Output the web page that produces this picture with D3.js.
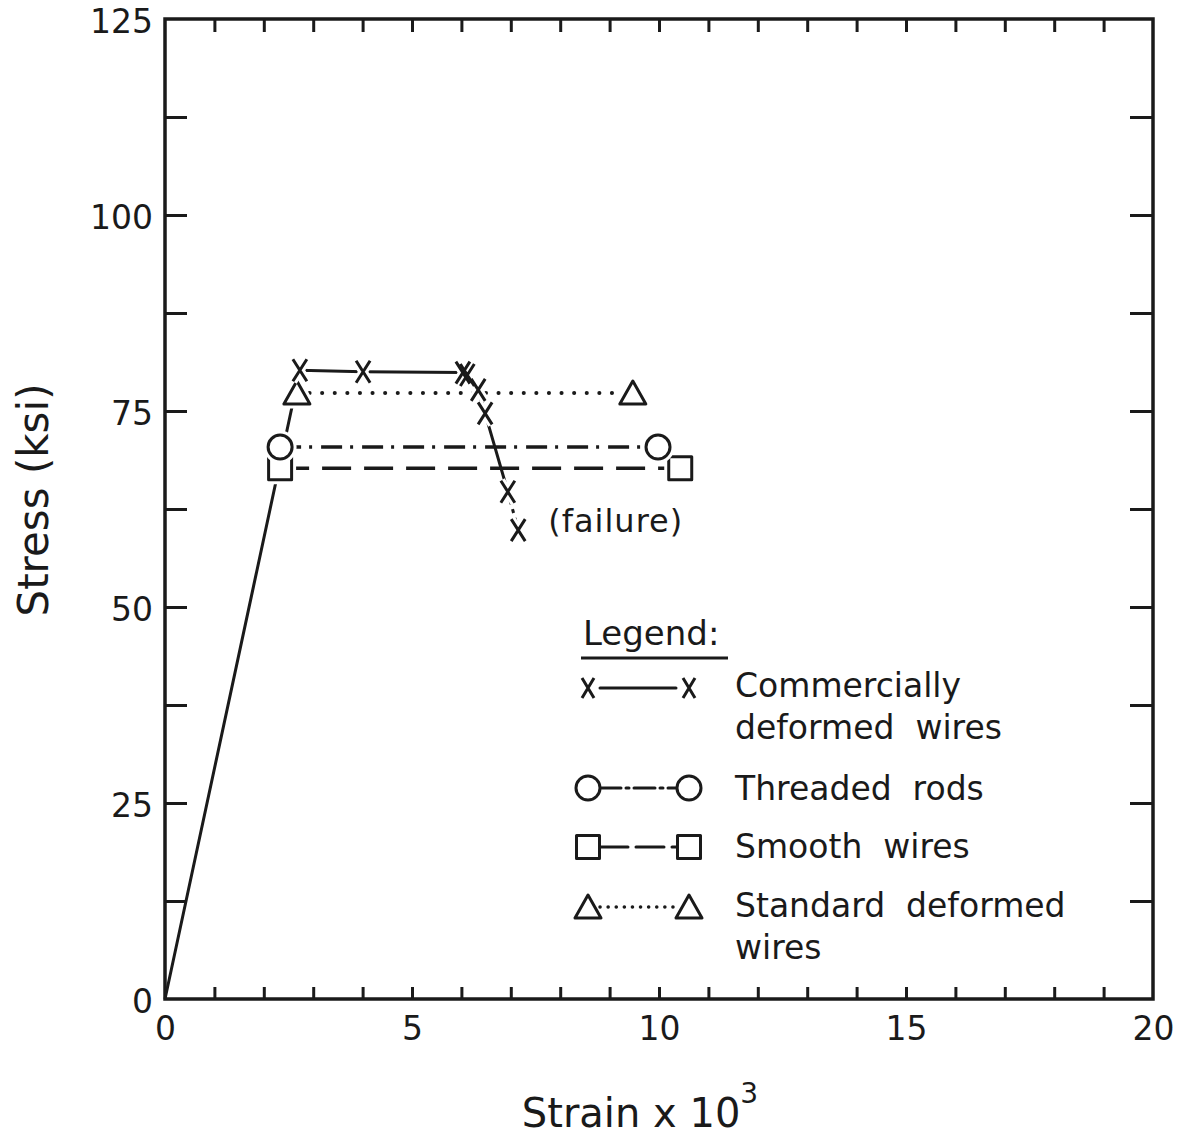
<!DOCTYPE html>
<html>
<head>
<meta charset="utf-8">
<script src="https://cdn.jsdelivr.net/npm/d3@7"></script>
<style>
  body { margin: 0; background: #fff; }
  text { font-family: "DejaVu Sans", sans-serif; fill: #1a1a1a; }
</style>
</head>
<body>
<div id="chart"></div>
<script>
// data (strain x 10^3, stress ksi)
var commercialStrain = [0, 2.73, 4.01, 6.03, 6.12, 6.34, 6.48, 6.94, 7.15];
var commercialStress = [0, 80.2, 80.0, 79.9, 79.6, 77.7, 74.7, 64.7, 59.8];

var threadedStrain = [2.33, 9.98];
var threadedStress = [70.4, 70.4];

var smoothStrain = [2.33, 10.43];
var smoothStress = [67.7, 67.7];

var standardStrain = [2.67, 9.47];
var standardStress = [77.3, 77.3];

var xTickLabels = [0, 5, 10, 15, 20];
var yTickLabels = [0, 25, 50, 75, 100, 125];

var legendLabels = [
  ["Commercially", "deformed  wires"],
  ["Threaded  rods"],
  ["Smooth  wires"],
  ["Standard  deformed", "wires"]
];

var svgWidth = 1185;
var svgHeight = 1135;
var ink = "#1a1a1a";

var svg = d3.select("#chart")
  .append("svg")
  .attr("width", svgWidth)
  .attr("height", svgHeight);

var x = d3.scaleLinear().domain([0, 20]).range([165, 1153]);
var y = d3.scaleLinear().domain([0, 125]).range([999, 19]);

function zip(xs, ys) {
  return xs.map(function(v, i) { return [v, ys[i]]; });
}

// axes: inward ticks, labels only on the major values
var xAxis = d3.axisBottom(x)
  .tickValues(d3.range(1, 20))
  .tickSize(-12)
  .tickFormat("");
var xLabels = d3.axisBottom(x)
  .tickValues(xTickLabels)
  .tickSize(0)
  .tickPadding(18);
var yAxis = d3.axisLeft(y)
  .tickValues(d3.range(12.5, 125, 12.5))
  .tickSize(-22)
  .tickFormat("");
var yLabels = d3.axisLeft(y)
  .tickValues(yTickLabels)
  .tickSize(0)
  .tickPadding(12);

svg.append("g").attr("transform", "translate(0,999)").call(xAxis);
svg.append("g").attr("transform", "translate(0,19)").call(d3.axisTop(x).tickValues(d3.range(1, 20)).tickSize(-13).tickFormat(""));
svg.append("g").attr("transform", "translate(165,0)").call(yAxis);
svg.append("g").attr("transform", "translate(1153,0)").call(d3.axisRight(y).tickValues(d3.range(12.5, 125, 12.5)).tickSize(-23).tickFormat(""));
svg.append("g").attr("transform", "translate(0,999)").call(xLabels);
var yLabelG = svg.append("g").attr("transform", "translate(165,3)").call(yLabels);

svg.selectAll(".domain").remove();
svg.selectAll(".tick line").attr("stroke", ink).attr("stroke-width", 3);
svg.selectAll(".tick text")
  .attr("font-family", "DejaVu Sans")
  .attr("font-size", 33)
  .attr("fill", ink);

// frame
svg.append("rect")
  .attr("x", x(0)).attr("y", y(125))
  .attr("width", x(20) - x(0)).attr("height", y(0) - y(125))
  .attr("fill", "none").attr("stroke", ink).attr("stroke-width", 3.5);

var line = d3.line().x(function(d) { return x(d[0]); }).y(function(d) { return y(d[1]); });

var commercial = zip(commercialStrain, commercialStress);

svg.append("path").datum(commercial.slice(0, 8))
  .attr("d", line).attr("fill", "none").attr("stroke", ink).attr("stroke-width", 3);
svg.append("path").datum(commercial.slice(7))
  .attr("d", line).attr("fill", "none").attr("stroke", ink).attr("stroke-width", 3)
  .attr("stroke-dasharray", "4,5");

svg.append("path").datum(zip(standardStrain, standardStress))
  .attr("d", line).attr("fill", "none").attr("stroke", ink).attr("stroke-width", 4)
  .attr("stroke-linecap", "round").attr("stroke-dasharray", "0.1,12.5");
svg.append("path").datum(zip(threadedStrain, threadedStress))
  .attr("d", line).attr("fill", "none").attr("stroke", ink).attr("stroke-width", 3.5)
  .attr("stroke-dasharray", "21,8,3,9");
svg.append("path").datum(zip(smoothStrain, smoothStress))
  .attr("d", line).attr("fill", "none").attr("stroke", ink).attr("stroke-width", 3.5)
  .attr("stroke-dasharray", "29,13");

// marker shapes
var shapes = {
  x: "M-7,-11 L7,11 M7,-11 L-7,11",
  circle: d3.symbol().type(d3.symbolCircle).size(Math.PI * 12 * 12)(),
  square: "M-11.5,-11.5 H11.5 V11.5 H-11.5 Z",
  triangle: "M0,-12 L13,11 L-13,11 Z"
};

function drawMarkers(points, shape) {
  var g = svg.append("g");
  g.selectAll("path.halo").data(points).enter().append("path")
    .attr("class", "halo")
    .attr("d", shapes[shape])
    .attr("transform", function(d) { return "translate(" + x(d[0]) + "," + y(d[1]) + ")"; })
    .attr("fill", shape == "x" ? "none" : "#fff")
    .attr("stroke", "#fff").attr("stroke-width", 9);
  g.selectAll("path.mk").data(points).enter().append("path")
    .attr("class", "mk")
    .attr("d", shapes[shape])
    .attr("transform", function(d) { return "translate(" + x(d[0]) + "," + y(d[1]) + ")"; })
    .attr("fill", "none")
    .attr("stroke", ink).attr("stroke-width", 3).attr("stroke-linejoin", "round");
}

drawMarkers(zip(smoothStrain, smoothStress), "square");
drawMarkers(zip(threadedStrain, threadedStress), "circle");
drawMarkers(zip(standardStrain, standardStress), "triangle");
drawMarkers(commercial.slice(1), "x");

// failure note next to the last point
var last = commercial[commercial.length - 1];
svg.append("text")
  .attr("x", x(last[0]) + 30).attr("y", y(last[1]) + 2)
  .attr("font-size", 32).attr("letter-spacing", 1)
  .text("(failure)");

// axis titles
svg.append("text")
  .attr("x", 640).attr("y", 1127)
  .attr("text-anchor", "middle")
  .attr("font-size", 40)
  .text("Strain x 10")
  .append("tspan").attr("font-size", 28).attr("dy", -24).text("3");

svg.append("text")
  .attr("transform", "translate(48,500) rotate(-90)")
  .attr("text-anchor", "middle")
  .attr("font-size", 42)
  .text("Stress (ksi)");

// legend
var legend = svg.append("g");
legend.append("text").attr("x", 583).attr("y", 645).attr("font-size", 34).text("Legend:");
legend.append("line").attr("x1", 581).attr("x2", 728).attr("y1", 658).attr("y2", 658)
  .attr("stroke", ink).attr("stroke-width", 3);

var legendRows = [
  { shape: "x", y: 688, dash: null, width: 3 },
  { shape: "circle", y: 788, dash: "21,5,3,5", width: 3 },
  { shape: "square", y: 847, dash: "28,8", width: 3 },
  { shape: "triangle", y: 907, dash: "0.1,8", width: 3.5 }
];
var textBase = [697, 800, 858, 917];

legendRows.forEach(function(r, i) {
  var seg = legend.append("line")
    .attr("x1", 600).attr("x2", 676).attr("y1", r.y).attr("y2", r.y)
    .attr("stroke", ink).attr("stroke-width", r.width).attr("stroke-linecap", "round");
  if (r.dash) seg.attr("stroke-dasharray", r.dash);
  [588, 689].forEach(function(cx) {
    var s = r.shape == "x" ? "M-6,-10 L6,10 M6,-10 L-6,10" : shapes[r.shape];
    legend.append("path").attr("d", s)
      .attr("transform", "translate(" + cx + "," + r.y + ")")
      .attr("fill", "#fff").attr("stroke", ink).attr("stroke-width", 3)
      .attr("stroke-linejoin", "round");
  });
  legendLabels[i].forEach(function(t, j) {
    legend.append("text")
      .attr("x", 735).attr("y", textBase[i] + j * 42)
      .attr("font-size", 33)
      .attr("xml:space", "preserve")
      .style("white-space", "pre")
      .text(t);
  });
});
</script>
</body>
</html>
